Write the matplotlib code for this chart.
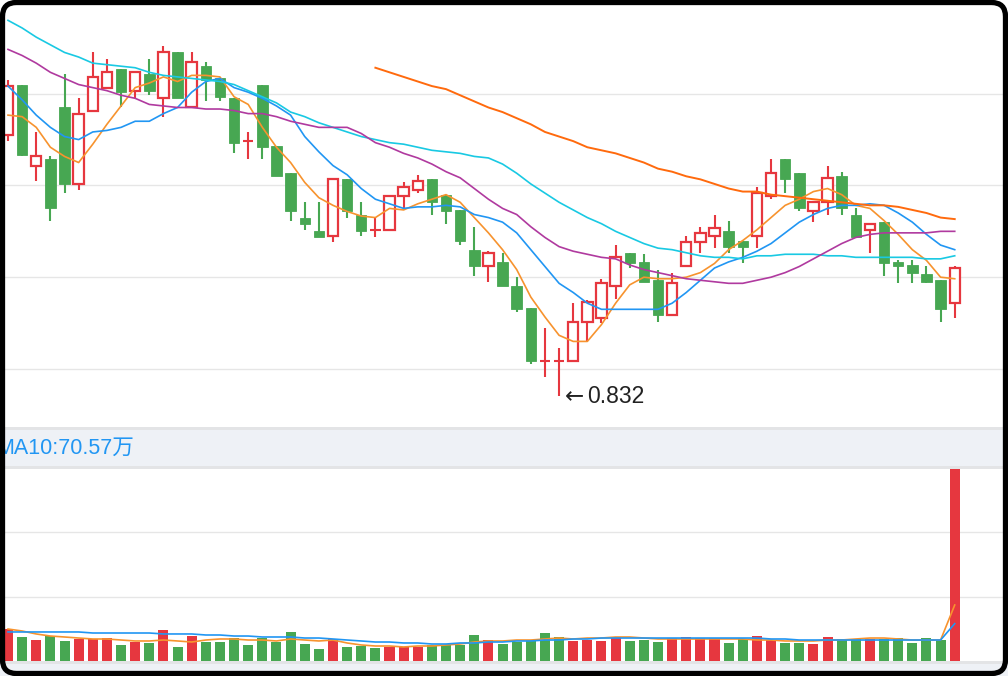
import numpy as np
import matplotlib.pyplot as plt
from matplotlib.patches import Rectangle, FancyBboxPatch

# daily candles (price)
opens = [1.003, 1.036, 0.983, 0.987, 1.021, 0.971, 1.019, 1.034, 1.046, 1.032,
         1.043, 1.027, 1.057, 1.021, 1.048, 1.040, 1.027, 0.999, 1.036, 0.996,
         0.978, 0.949, 0.940, 0.937, 0.974, 0.951, 0.941, 0.941, 0.963, 0.967,
         0.974, 0.964, 0.954, 0.928, 0.917, 0.920, 0.904, 0.890, 0.855, 0.855,
         0.855, 0.881, 0.883, 0.904, 0.926, 0.920, 0.908, 0.885, 0.917, 0.933,
         0.937, 0.940, 0.934, 0.937, 0.963, 0.987, 0.978, 0.953, 0.959, 0.976,
         0.951, 0.941, 0.946, 0.920, 0.918, 0.912, 0.908, 0.893]
highs = [1.039, 1.036, 1.005, 0.989, 1.043, 1.027, 1.057, 1.053, 1.046, 1.044,
         1.053, 1.061, 1.057, 1.057, 1.051, 1.040, 1.027, 1.005, 1.036, 0.996,
         0.978, 0.959, 0.959, 0.975, 0.974, 0.959, 0.949, 0.963, 0.972, 0.977,
         0.974, 0.964, 0.954, 0.943, 0.927, 0.926, 0.910, 0.890, 0.877, 0.864,
         0.893, 0.895, 0.909, 0.931, 0.926, 0.925, 0.915, 0.913, 0.937, 0.943,
         0.951, 0.947, 0.934, 0.969, 0.987, 0.987, 0.978, 0.959, 0.983, 0.979,
         0.955, 0.945, 0.946, 0.921, 0.921, 0.917, 0.908, 0.917]
lows = [0.999, 0.989, 0.973, 0.947, 0.965, 0.967, 1.019, 1.033, 1.021, 1.027,
        1.029, 1.015, 1.027, 1.021, 1.025, 1.025, 0.991, 0.987, 0.987, 0.976,
        0.947, 0.941, 0.936, 0.933, 0.949, 0.937, 0.936, 0.941, 0.955, 0.965,
        0.951, 0.945, 0.931, 0.911, 0.907, 0.904, 0.887, 0.853, 0.845, 0.832,
        0.855, 0.868, 0.880, 0.896, 0.916, 0.907, 0.881, 0.885, 0.917, 0.926,
        0.929, 0.926, 0.919, 0.929, 0.961, 0.965, 0.953, 0.946, 0.951, 0.951,
        0.936, 0.926, 0.911, 0.906, 0.906, 0.906, 0.881, 0.883]
closes = [1.035, 0.990, 0.989, 0.955, 0.971, 1.017, 1.041, 1.044, 1.031, 1.044,
          1.032, 1.057, 1.027, 1.051, 1.039, 1.028, 0.998, 0.999, 0.995, 0.976,
          0.953, 0.945, 0.936, 0.974, 0.953, 0.940, 0.941, 0.963, 0.969, 0.973,
          0.959, 0.953, 0.934, 0.917, 0.926, 0.904, 0.889, 0.855, 0.855, 0.855,
          0.881, 0.894, 0.906, 0.923, 0.919, 0.907, 0.885, 0.906, 0.933, 0.939,
          0.942, 0.930, 0.930, 0.965, 0.978, 0.974, 0.955, 0.959, 0.975, 0.955,
          0.936, 0.945, 0.919, 0.917, 0.913, 0.907, 0.889, 0.916]

ma5 = [1.016, 1.015, 1.008, 0.995, 0.989, 0.985, 0.997, 1.010, 1.022, 1.034,
       1.037, 1.041, 1.038, 1.042, 1.042, 1.041, 1.028, 1.023, 1.008, 0.995,
       0.985, 0.972, 0.962, 0.957, 0.953, 0.950, 0.949, 0.955, 0.954, 0.958,
       0.961, 0.964, 0.959, 0.949, 0.939, 0.928, 0.915, 0.897, 0.884, 0.872,
       0.868, 0.868, 0.879, 0.893, 0.905, 0.910, 0.909, 0.909, 0.910, 0.913,
       0.919, 0.928, 0.934, 0.941, 0.949, 0.957, 0.961, 0.966, 0.968, 0.964,
       0.957, 0.955, 0.947, 0.938, 0.928, 0.921, 0.910, 0.909]
ma10 = [1.035, 1.026, 1.016, 1.008, 1.002, 1.000, 1.005, 1.006, 1.008, 1.012,
        1.012, 1.017, 1.021, 1.031, 1.038, 1.040, 1.034, 1.031, 1.027, 1.022,
        1.016, 1.002, 0.992, 0.983, 0.977, 0.968, 0.961, 0.958, 0.955, 0.956,
        0.956, 0.957, 0.956, 0.951, 0.949, 0.946, 0.939, 0.928, 0.917, 0.906,
        0.900, 0.893, 0.889, 0.889, 0.889, 0.889, 0.889, 0.893, 0.900, 0.908,
        0.916, 0.920, 0.923, 0.927, 0.932, 0.939, 0.946, 0.951, 0.955, 0.957,
        0.957, 0.958, 0.957, 0.952, 0.946, 0.938, 0.931, 0.928]
ma20 = [1.078, 1.073, 1.067, 1.062, 1.057, 1.054, 1.050, 1.049, 1.048, 1.047,
        1.044, 1.042, 1.041, 1.040, 1.039, 1.038, 1.036, 1.032, 1.028, 1.024,
        1.018, 1.015, 1.011, 1.008, 1.005, 1.002, 1.000, 0.998, 0.997, 0.995,
        0.993, 0.992, 0.991, 0.989, 0.988, 0.984, 0.978, 0.971, 0.965, 0.959,
        0.954, 0.949, 0.945, 0.940, 0.936, 0.932, 0.929, 0.928, 0.926, 0.924,
        0.923, 0.923, 0.922, 0.924, 0.924, 0.925, 0.925, 0.925, 0.924, 0.924,
        0.923, 0.923, 0.923, 0.923, 0.923, 0.922, 0.922, 0.924]
ma30 = [1.059, 1.055, 1.050, 1.044, 1.040, 1.036, 1.034, 1.032, 1.029, 1.027,
        1.023, 1.022, 1.021, 1.021, 1.020, 1.020, 1.019, 1.017, 1.017, 1.015,
        1.012, 1.010, 1.008, 1.008, 1.008, 1.004, 0.998, 0.995, 0.991, 0.988,
        0.984, 0.979, 0.975, 0.968, 0.961, 0.955, 0.951, 0.943, 0.936, 0.930,
        0.927, 0.925, 0.923, 0.922, 0.918, 0.915, 0.913, 0.911, 0.909, 0.908,
        0.907, 0.906, 0.906, 0.908, 0.910, 0.913, 0.917, 0.922, 0.927, 0.932,
        0.936, 0.938, 0.939, 0.939, 0.939, 0.939, 0.940, 0.940]
ma60 = [np.nan] * 26 + [
        1.047, 1.044, 1.041, 1.038, 1.035, 1.033, 1.029, 1.025, 1.021, 1.018,
        1.014, 1.010, 1.005, 1.002, 0.999, 0.995, 0.993, 0.991, 0.988, 0.985,
        0.981, 0.979, 0.976, 0.974, 0.971, 0.968, 0.966, 0.966, 0.964, 0.963,
        0.962, 0.961, 0.960, 0.959, 0.958, 0.957, 0.957, 0.956, 0.954, 0.952,
        0.949, 0.948]

# volume in 万
volumes = [60.1, 45.8, 40.2, 47.6, 38.4, 42.1, 42.1, 43.4, 31.0, 37.1,
           35.2, 58.8, 27.3, 47.6, 37.1, 37.1, 43.9, 31.0, 43.9, 37.1,
           55.1, 32.8, 23.5, 41.5, 27.3, 29.1, 25.4, 27.8, 27.8, 27.8,
           30.4, 30.4, 30.4, 49.5, 40.2, 32.8, 37.1, 40.2, 53.2, 45.8,
           38.9, 40.2, 38.9, 45.8, 38.9, 40.2, 37.1, 44.5, 46.4, 43.4,
           43.4, 35.2, 42.1, 47.6, 40.2, 35.2, 35.2, 33.4, 45.8, 41.5,
           41.5, 41.5, 42.1, 43.4, 35.2, 43.4, 40.2, 360.0]
vol_ma5 = [60.6, 56.9, 51.4, 47.6, 45.8, 43.9, 42.1, 42.1, 40.2, 38.4,
           38.4, 40.2, 38.4, 36.5, 40.2, 42.1, 42.1, 40.2, 40.2, 38.4,
           42.1, 40.2, 38.4, 40.2, 34.7, 31.0, 29.1, 29.1, 27.3, 29.1,
           29.1, 31.0, 32.8, 36.5, 38.4, 38.4, 40.2, 40.2, 42.1, 43.9,
           42.1, 43.9, 43.9, 45.8, 45.8, 43.9, 42.1, 42.1, 42.1, 42.1,
           42.1, 42.1, 42.1, 40.2, 40.2, 38.4, 38.4, 38.4, 40.2, 40.2,
           42.1, 43.9, 43.9, 42.1, 40.2, 40.2, 40.2, 105.1]
vol_ma10 = [55.1, 55.1, 55.1, 55.1, 55.1, 55.1, 53.2, 53.2, 53.2, 53.2,
            53.2, 51.4, 51.4, 51.4, 49.5, 49.5, 47.6, 47.6, 45.8, 45.8,
            45.8, 43.9, 43.9, 42.1, 40.2, 38.4, 36.5, 36.5, 34.7, 34.7,
            32.8, 32.8, 34.7, 34.7, 36.5, 36.5, 38.4, 38.4, 40.2, 40.2,
            42.1, 42.1, 43.9, 43.9, 43.9, 43.9, 43.9, 43.9, 43.9, 43.9,
            43.9, 43.9, 43.9, 43.9, 42.1, 42.1, 40.2, 40.2, 40.2, 40.2,
            40.2, 40.2, 40.2, 40.2, 40.2, 40.2, 40.2, 70.57]

RED = '#e6373f'
GREEN = '#47a752'
W, H = 1008, 676

fig = plt.figure(figsize=(W / 100, H / 100), dpi=100, facecolor='white')


def px_axes(top, bottom):
    return fig.add_axes([0, 1 - bottom / H, 1, (bottom - top) / H])


def band(top, bottom, color, z=5):
    fig.add_artist(Rectangle((0, 1 - bottom / H), 1, (bottom - top) / H,
                             transform=fig.transFigure, color=color, lw=0, zorder=z))


n = len(closes)
x = np.arange(n)
xlim = (-0.566, 70.77)

# price panel
ax = px_axes(0, 427.5)
ax.set_xlim(*xlim)
ax.set_ylim(0.8117, 1.0913)
ax.axis('off')
for g in [0.85, 0.91, 0.97, 1.03]:
    ax.axhline(g, color='#e6e6e6', lw=1.0, zorder=0)

bw = 0.74
for i in range(n):
    o, h, l, c = opens[i], highs[i], lows[i], closes[i]
    if c == o:
        ax.vlines(i, l, h, color=RED, lw=1.5, zorder=2)
        ax.hlines(o, i - bw / 2, i + bw / 2, color=RED, lw=1.5, zorder=2)
    elif c > o:
        ax.vlines(i, l, h, color=RED, lw=1.5, zorder=2)
        ax.add_patch(Rectangle((i - bw / 2, o), bw, c - o, fc='white', ec=RED,
                               lw=1.6, zorder=3))
    else:
        ax.vlines(i, l, h, color=GREEN, lw=1.5, zorder=2)
        ax.add_patch(Rectangle((i - bw / 2, c), bw, o - c, fc=GREEN, ec=GREEN,
                               lw=0.6, zorder=3))

ax.plot(x, ma5, color='#f7932e', lw=1.2, zorder=4)
ax.plot(x, ma10, color='#2196f3', lw=1.2, zorder=4)
ax.plot(x, ma20, color='#19c9e3', lw=1.2, zorder=4)
ax.plot(x, ma30, color='#b03a9f', lw=1.2, zorder=4)
ax.plot(x, ma60, color='#ff6a0d', lw=1.4, zorder=4)

low_i = int(np.argmin(lows))
ax.annotate('\u2190', xy=(low_i, lows[low_i]), xytext=(4.3, 0),
            textcoords='offset points', ha='left', va='center', fontsize=16.5,
            color='#222222', family='DejaVu Sans', zorder=6)
ax.annotate(f'{lows[low_i]:.3f}', xy=(low_i, lows[low_i]), xytext=(20, 0),
            textcoords='offset points', ha='left', va='center', fontsize=16.5,
            color='#222222', family='Liberation Sans', zorder=6)

# volume panel
vax = px_axes(467.5, 661.7)
vax.set_xlim(*xlim)
vax.set_ylim(0, 360)
vax.axis('off')
for g in [120, 240]:
    vax.axhline(g, color='#e6e6e6', lw=1.0, zorder=0)
vcolors = [RED if closes[i] > opens[i] else GREEN for i in range(n)]
vax.bar(x, volumes, width=0.71, color=vcolors, zorder=2)
vax.plot(x, vol_ma5, color='#f7932e', lw=1.2, zorder=3)
vax.plot(x, vol_ma10, color='#2196f3', lw=1.2, zorder=3)

# separator bands
band(427, 430, '#e3e4e6')
band(430, 466, '#eef1f6')
band(466, 469, '#e3e4e6')
band(660.7, 663.5, '#e3e4e6')
band(663.5, 676, '#eef1f6')

fig.text(-4 / W, 1 - 448 / H, f'MA10:{vol_ma10[-1]:.2f}万', color='#2196f3',
         fontsize=15.5, ha='left', va='center',
         family=['Liberation Sans', 'Noto Sans CJK SC'], zorder=7)

# outer rounded frame
fig.add_artist(FancyBboxPatch((2.5, 2.5), W - 5, H - 5,
                              boxstyle='round,pad=0,rounding_size=14',
                              transform=None, fc='none', ec='black', lw=3.8,
                              zorder=10))

fig.savefig('out.png', dpi=100, facecolor='white')
